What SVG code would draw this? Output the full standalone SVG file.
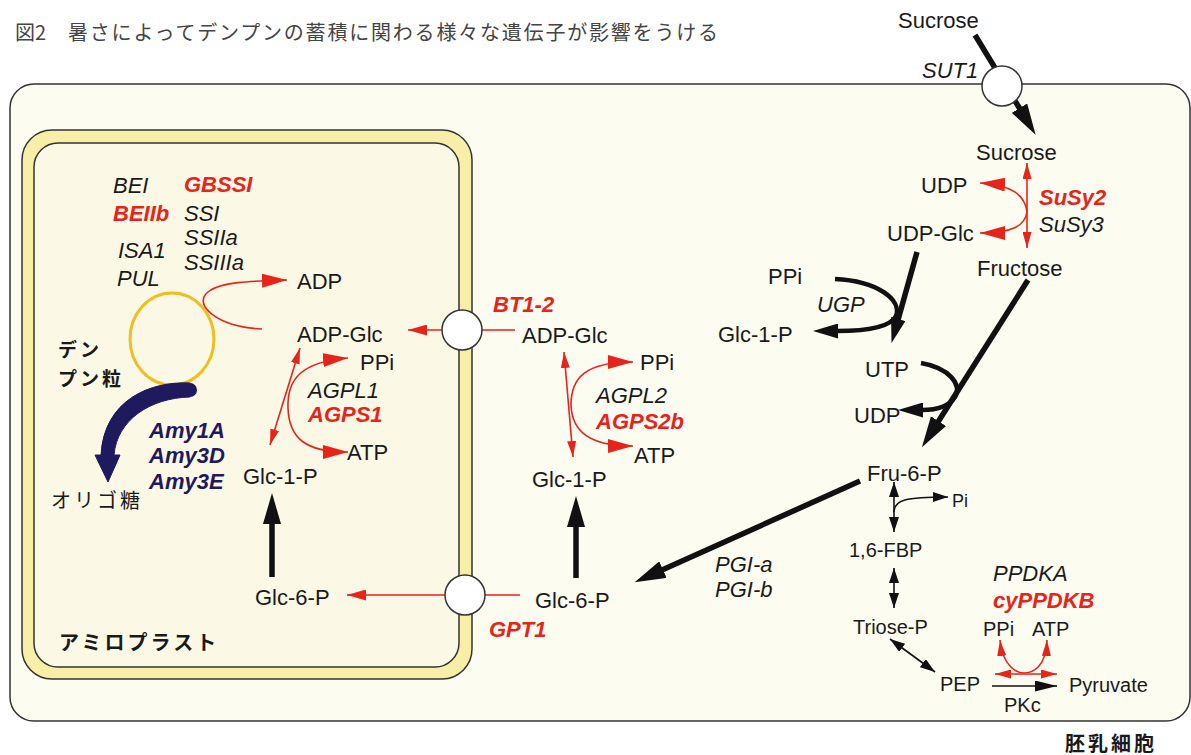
<svg xmlns="http://www.w3.org/2000/svg" width="1191" height="755" viewBox="0 0 1191 755">
<style>
.t{font-family:"Liberation Sans",Arial,sans-serif;font-size:22px;fill:#1a1a1a}
.s{font-size:20px}
.i{font-style:italic}
.r{fill:#e8231a;font-weight:bold;font-style:italic}
.n{fill:#1f1a5e;font-weight:bold;font-style:italic}
.jp{font-family:"Noto Sans CJK JP","Noto Sans CJK SC",sans-serif;font-size:20px;fill:#1a1a1a;letter-spacing:3px}
.b{font-weight:bold}
.rl{fill:none;stroke:#e8231a;stroke-width:1.6}
.kl{fill:none;stroke:#111;stroke-width:5.5}
.kt{fill:none;stroke:#111;stroke-width:1.6}
.tr{fill:#fff;stroke:#333;stroke-width:1.5}
</style>
<defs>
<marker id="rB" viewBox="0 0 25 14" refX="25" refY="7" markerWidth="25" markerHeight="14" markerUnits="userSpaceOnUse" orient="auto"><path d="M0,0 L25,7 L0,14 z" fill="#e8231a"/></marker>
<marker id="rM" viewBox="0 0 19 11" refX="19" refY="5.5" markerWidth="19" markerHeight="11" markerUnits="userSpaceOnUse" orient="auto"><path d="M0,0 L19,5.5 L0,11 z" fill="#e8231a"/></marker>
<marker id="rS" viewBox="0 0 16 9" refX="16" refY="4.5" markerWidth="16" markerHeight="9" markerUnits="userSpaceOnUse" orient="auto-start-reverse"><path d="M0,0 L16,4.5 L0,9 z" fill="#e8231a"/></marker>
<marker id="kB" viewBox="0 0 31 18" refX="1" refY="9" markerWidth="31" markerHeight="18" markerUnits="userSpaceOnUse" orient="auto"><path d="M0,0 L31,9 L0,18 z" fill="#111"/></marker>
<marker id="kM" viewBox="0 0 25 15" refX="1" refY="7.5" markerWidth="25" markerHeight="15" markerUnits="userSpaceOnUse" orient="auto"><path d="M0,0 L25,7.5 L0,15 z" fill="#111"/></marker>
<marker id="kS" viewBox="0 0 15 10" refX="15" refY="5" markerWidth="15" markerHeight="10" markerUnits="userSpaceOnUse" orient="auto-start-reverse"><path d="M0,0 L15,5 L0,10 z" fill="#111"/></marker>
<marker id="kP" viewBox="0 0 22 11" refX="22" refY="5.5" markerWidth="22" markerHeight="11" markerUnits="userSpaceOnUse" orient="auto"><path d="M0,0 L22,5.5 L0,11 z" fill="#111"/></marker>
</defs>
<rect width="1191" height="755" fill="#fff"/>

<g id="title"><text x="15" y="40" style="font-family:'Noto Sans CJK JP',sans-serif;font-size:20px;fill:#444">図2</text><text x="68" y="40" textLength="650" lengthAdjust="spacing" style="font-family:'Noto Sans CJK JP',sans-serif;font-size:20px;fill:#444">暑さによってデンプンの蓄積に関わる様々な遺伝子が影響をうける</text></g>

<g id="cell"><rect x="10" y="84" width="1180" height="637" rx="24" fill="#fcfcf1" stroke="#333" stroke-width="1.5"/></g>
<g id="amyloplast"><rect x="22" y="130" width="450" height="549" rx="30" fill="#f7efa8" stroke="#333" stroke-width="1.5"/><rect x="34" y="143" width="425" height="524" rx="24" fill="#fbf9e6" stroke="#333" stroke-width="1.5"/></g>
<g id="starch-granule"><ellipse cx="172" cy="339" rx="42" ry="46" fill="none" stroke="#f0be1e" stroke-width="3"/></g>

<g id="connectors">
<path class="rl" d="M262,329 C218,327 192,305 208,292 C220,282 250,281 287,280" marker-end="url(#rB)"/>
<path class="rl" d="M442,330 L408,330" marker-end="url(#rM)"/>
<path class="rl" d="M482,330 L515,330"/>
<path class="rl" d="M300,348 L270,445" marker-start="url(#rS)" marker-end="url(#rS)"/>
<path class="rl" d="M288,408 C287,380 300,362 348,358" marker-end="url(#rB)"/>
<path class="rl" d="M288,408 C289,438 305,452 348,452" marker-end="url(#rB)"/>
<path class="rl" d="M564,352 L573,457" marker-start="url(#rS)" marker-end="url(#rS)"/>
<path class="rl" d="M571,405 C571,378 585,362 633,362" marker-end="url(#rB)"/>
<path class="rl" d="M571,405 C572,432 590,446 633,446" marker-end="url(#rB)"/>
<path class="rl" d="M445,595 L347,595" marker-end="url(#rM)"/>
<path class="rl" d="M485,595 L520,595"/>
<path class="kl" d="M272,577 L272,523" marker-end="url(#kB)"/>
<path class="kl" d="M576,578 L576,526" marker-end="url(#kB)"/>
<path class="kl" d="M860,481 L662,570" marker-end="url(#kB)"/>
<path d="M190,383 C150,381 104,400 101,455 L95,455 L108,482 L120,455 L114,455 C117,420 150,398 190,397 Z" fill="#1f1a5e" stroke="#1f1a5e" stroke-width="1" stroke-linejoin="round"/>
<circle cx="190" cy="390" r="7" fill="#1f1a5e"/>
<path class="kl" d="M975,35 L1020,109" marker-end="url(#kB)"/>
<path class="rl" d="M1027,163 L1027,248" marker-start="url(#rS)" marker-end="url(#rS)"/>
<path class="rl" d="M1027,212 C1025,195 1012,185 980,183" marker-end="url(#rB)"/>
<path class="rl" d="M1027,212 C1025,226 1012,233 980,233" marker-end="url(#rB)"/>
<path class="kl" d="M917,252 L898,320" marker-end="url(#kM)"/>
<path class="kl" style="stroke-width:4.5" d="M835,279 C878,281 902,300 896,316 C890,328 865,331 837,331" marker-end="url(#kM)"/>
<path class="kl" style="stroke-width:4.5" d="M921,363 C950,368 962,385 955,397 C948,408 935,410 922,410" marker-end="url(#kM)"/>
<path class="kl" d="M1028,280 L938,422" marker-end="url(#kB)"/>
<path class="kt" d="M894,482 L894,532" marker-start="url(#kS)" marker-end="url(#kS)"/>
<path class="kt" d="M894,512 C894,500 905,497 948,497" marker-end="url(#kS)"/>
<path class="kt" d="M894,568 L894,608" marker-start="url(#kS)" marker-end="url(#kS)"/>
<path class="kt" d="M890,639 L935,672" marker-start="url(#kS)" marker-end="url(#kS)"/>
<path class="kt" d="M992,686 L1057,686" marker-end="url(#kP)"/>
<path class="rl" d="M995,674 L1057,674" marker-start="url(#rS)" marker-end="url(#rS)"/>
<path class="rl" d="M1000,640 C1003,668 1018,673 1024,673 C1032,673 1046,668 1047,640" marker-start="url(#rS)" marker-end="url(#rS)"/>
</g>

<g id="SUT1"><circle class="tr" cx="1002" cy="86" r="20"/><text class="t i" x="922" y="78">SUT1</text></g>
<g id="BT1-2"><circle class="tr" cx="462" cy="330" r="20"/><text class="t r" x="493" y="312">BT1-2</text></g>
<g id="GPT1"><circle class="tr" cx="465" cy="595" r="20"/><text class="t r" x="489" y="637">GPT1</text></g>

<g id="plastid-genes">
<text class="t i" x="113" y="193">BEI</text>
<text class="t r" x="184" y="192">GBSSI</text>
<text class="t r" x="113" y="221">BEIIb</text>
<text class="t i" x="184" y="221">SSI</text>
<text class="t i" x="184" y="245">SSIIa</text>
<text class="t i" x="118" y="258">ISA1</text>
<text class="t i" x="184" y="270">SSIIIa</text>
<text class="t i" x="117" y="286">PUL</text>
</g>
<g id="ADP-p"><text class="t" x="297" y="289">ADP</text></g>
<g id="ADPGlc-p"><text class="t" x="297" y="342">ADP-Glc</text></g>
<g id="PPi-p"><text class="t" x="360" y="370">PPi</text></g>
<g id="AGP1"><text class="t i" x="308" y="398">AGPL1</text><text class="t r" x="308" y="422">AGPS1</text></g>
<g id="ATP-p"><text class="t" x="347" y="460">ATP</text></g>
<g id="Glc1P-p"><text class="t" x="243" y="484">Glc-1-P</text></g>
<g id="Glc6P-p"><text class="t" x="255" y="605">Glc-6-P</text></g>
<g id="starch-label"><text class="jp b" x="58" y="357" style="font-size:19px">デン</text><text class="jp b" x="58" y="386" style="font-size:19px">プン粒</text></g>
<g id="oligo"><text class="jp" x="51" y="508">オリゴ糖</text></g>
<g id="amylases"><text class="t n" x="149" y="438">Amy1A</text><text class="t n" x="149" y="463">Amy3D</text><text class="t n" x="149" y="489">Amy3E</text></g>
<g id="amyloplast-label"><text class="jp b" x="59" y="650">アミロプラスト</text></g>

<g id="ADPGlc-c"><text class="t" x="522" y="343">ADP-Glc</text></g>
<g id="PPi-c"><text class="t" x="640" y="370">PPi</text></g>
<g id="AGP2"><text class="t i" x="596" y="403">AGPL2</text><text class="t r" x="596" y="429">AGPS2b</text></g>
<g id="ATP-c"><text class="t" x="634" y="463">ATP</text></g>
<g id="Glc1P-c"><text class="t" x="532" y="487">Glc-1-P</text></g>
<g id="Glc6P-c"><text class="t" x="535" y="608">Glc-6-P</text></g>
<g id="PGI"><text class="t i" x="715" y="572">PGI-a</text><text class="t i" x="715" y="597">PGI-b</text></g>

<g id="Sucrose-out"><text class="t" x="898" y="28">Sucrose</text></g>
<g id="Sucrose-in"><text class="t" x="976" y="160">Sucrose</text></g>
<g id="UDP1"><text class="t" x="921" y="193">UDP</text></g>
<g id="SuSy"><text class="t r" x="1039" y="205">SuSy2</text><text class="t i" x="1039" y="232">SuSy3</text></g>
<g id="UDPGlc"><text class="t" x="887" y="241">UDP-Glc</text></g>
<g id="Fructose"><text class="t" x="977" y="276">Fructose</text></g>
<g id="PPi-cy"><text class="t" x="768" y="284">PPi</text></g>
<g id="UGP"><text class="t i" x="817" y="312">UGP</text></g>
<g id="Glc1P-cy"><text class="t" x="718" y="342">Glc-1-P</text></g>
<g id="UTP"><text class="t" x="865" y="377">UTP</text></g>
<g id="UDP2"><text class="t" x="854" y="423">UDP</text></g>
<g id="Fru6P"><text class="t" x="867" y="481">Fru-6-P</text></g>
<g id="Pi"><text class="t" x="952" y="507" style="font-size:18px">Pi</text></g>
<g id="FBP"><text class="t s" x="849" y="557">1,6-FBP</text></g>
<g id="PPDK"><text class="t i" x="993" y="581">PPDKA</text><text class="t r" x="993" y="608">cyPPDKB</text></g>
<g id="TrioseP"><text class="t s" x="853" y="634">Triose-P</text></g>
<g id="PPi-g"><text class="t s" x="983" y="636">PPi</text></g>
<g id="ATP-g"><text class="t s" x="1032" y="636">ATP</text></g>
<g id="PEP"><text class="t s" x="940" y="691">PEP</text></g>
<g id="Pyruvate"><text class="t s" x="1069" y="692">Pyruvate</text></g>
<g id="PKc"><text class="t s" x="1004" y="712">PKc</text></g>
<g id="endosperm-label"><text class="jp b" x="1065" y="751">胚乳細胞</text></g>
</svg>
